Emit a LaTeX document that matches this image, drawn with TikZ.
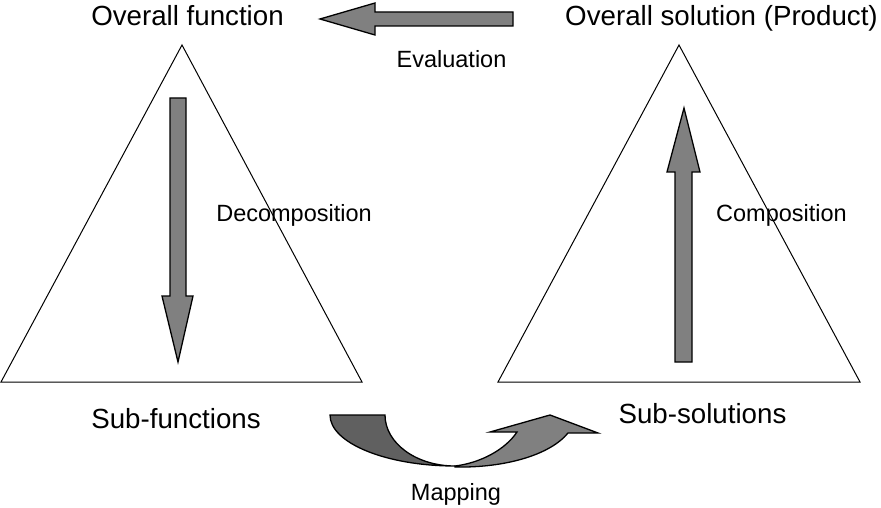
\documentclass[tikz,border=0pt]{standalone}
\usepackage{fontspec}
\setmainfont{Liberation Sans}
\definecolor{arrowgray}{HTML}{808080}
\definecolor{darkgray}{HTML}{606060}
\begin{document}
\begin{tikzpicture}[x=1pt,y=-1pt,
  big/.style={font=\fontsize{27.7}{32}\selectfont, inner sep=0pt, anchor=base},
  small/.style={font=\fontsize{23.5}{28}\selectfont, inner sep=0pt, anchor=base},
  tri/.style={draw=black, line width=1pt, line join=miter},
  block/.style={draw=black, line width=1.3pt, fill=arrowgray, line join=miter},
]
\useasboundingbox (0,0) rectangle (881,508);

% the two triangles
\draw[tri] (182,45) -- (362,382) -- (1,382) -- cycle;
\draw[tri] (679,45) -- (860,382) -- (498,382) -- cycle;

% labels
\node[big]   (ofun)  at (187.5,26) {Overall function};
\node[big]   (osol)  at (721.5,26) {Overall solution (Product)};
\node[small] (eval)  at (451.5,68) {Evaluation};
\node[small] (decomp) at (294,221) {Decomposition};
\node[small] (comp)  at (781.5,221) {Composition};
\node[big]   (sfun)  at (176,428) {Sub-functions};
\node[big]   (ssol)  at (702.5,423) {Sub-solutions};
\node[small] (map)   at (456,500) {Mapping};

% evaluation arrow (right to left)
\draw[block] (513,12) -- (375,12) -- (375,3) -- (320,19) -- (375,35)
  -- (375,26) -- (513,26) -- cycle;

% decomposition arrow (downwards)
\draw[block] (170,98) -- (186,98) -- (186,296) -- (193,296) -- (178,362)
  -- (162,296) -- (170,296) -- cycle;

% composition arrow (upwards)
\draw[block] (675,362) -- (692,362) -- (692,172) -- (700,172) -- (684,108)
  -- (667,172) -- (675,172) -- cycle;

% mapping arrow: dark descending part
\draw[block, fill=darkgray] (330,415) -- (385,415)
  .. controls (385,443) and (416,466) .. (455,466)
  .. controls (386,466) and (330,443) .. cycle;
% mapping arrow: rising part with head
\draw[block] (455,466)
  .. controls (480,463) and (505,450) .. (517,432)
  -- (490,432) -- (550,415) -- (598,433) -- (568,433)
  .. controls (550,455) and (505,468) .. (455,467) -- cycle;
\end{tikzpicture}
\end{document}
